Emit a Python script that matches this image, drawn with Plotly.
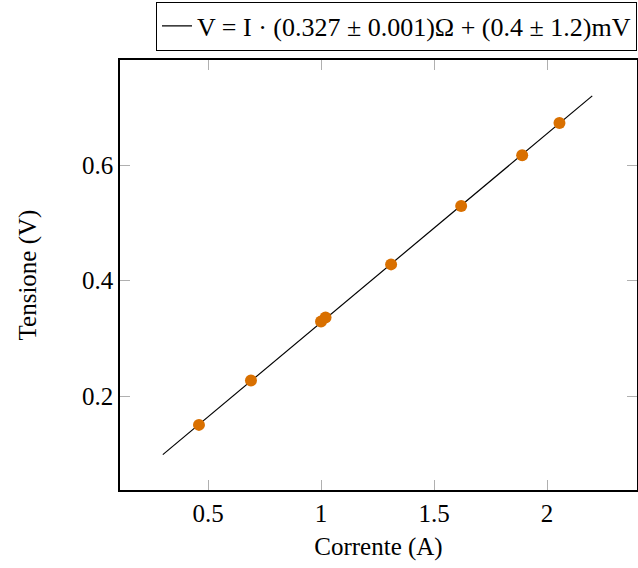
import plotly.graph_objects as go

current = [0.46, 0.69, 1.00, 1.02, 1.31, 1.62, 1.89, 2.055]
voltage = [0.150, 0.227, 0.329, 0.336, 0.428, 0.529, 0.617, 0.673]
fit_x = [0.3, 2.2]
slope = 0.327
intercept = 0.0004
fit_y = [slope * x + intercept for x in fit_x]

x_ticks = [0.5, 1, 1.5, 2]
x_tick_labels = ["0.5", "1", "1.5", "2"]
y_ticks = [0.2, 0.4, 0.6]
y_tick_labels = ["0.2", "0.4", "0.6"]

legend_label = "V = I · (0.327 ± 0.001)Ω + (0.4 ± 1.2)mV"

font_family = "Liberation Serif, Times New Roman, serif"

fig = go.Figure()
fig.add_trace(go.Scatter(
    x=fit_x, y=fit_y, mode="lines",
    line=dict(color="black", width=1.2),
    name=legend_label, showlegend=True,
))
fig.add_trace(go.Scatter(
    x=current, y=voltage, mode="markers",
    marker=dict(color="#d97000", size=12, line=dict(width=0)),
    showlegend=False,
))

axis_common = dict(
    showgrid=False, zeroline=False,
    showline=True, linecolor="black", linewidth=1.5,
    mirror="allticks", ticks="inside", ticklen=10, tickwidth=1.2,
    tickcolor="#b0b0b0",
    tickfont=dict(size=25, color="black", family=font_family),
)

fig.update_xaxes(
    range=[0.1106, 2.398], tickvals=x_ticks, ticktext=x_tick_labels,
    title=dict(text="Corrente (A)", font=dict(size=25, family=font_family, color="black"), standoff=12),
    **axis_common,
)
fig.update_yaxes(
    range=[0.0372, 0.782], tickvals=y_ticks, ticktext=y_tick_labels,
    title=dict(text="Tensione (V)", font=dict(size=25, family=font_family, color="black"), standoff=38),
    **axis_common,
)

fig.update_layout(
    width=638, height=568,
    margin=dict(l=120, r=1, t=60, b=78, autoexpand=False),
    paper_bgcolor="white", plot_bgcolor="white",
    font=dict(family=font_family, color="black"),
    legend=dict(
        x=1.0, xanchor="right", y=1.022, yanchor="bottom",
        bordercolor="black", borderwidth=1, bgcolor="white",
        font=dict(size=26, family=font_family, color="black"),
        itemwidth=30,
    ),
)

fig.write_html("out.html", config={"displayModeBar": False},
               post_script="document.body.style.margin='0';")
